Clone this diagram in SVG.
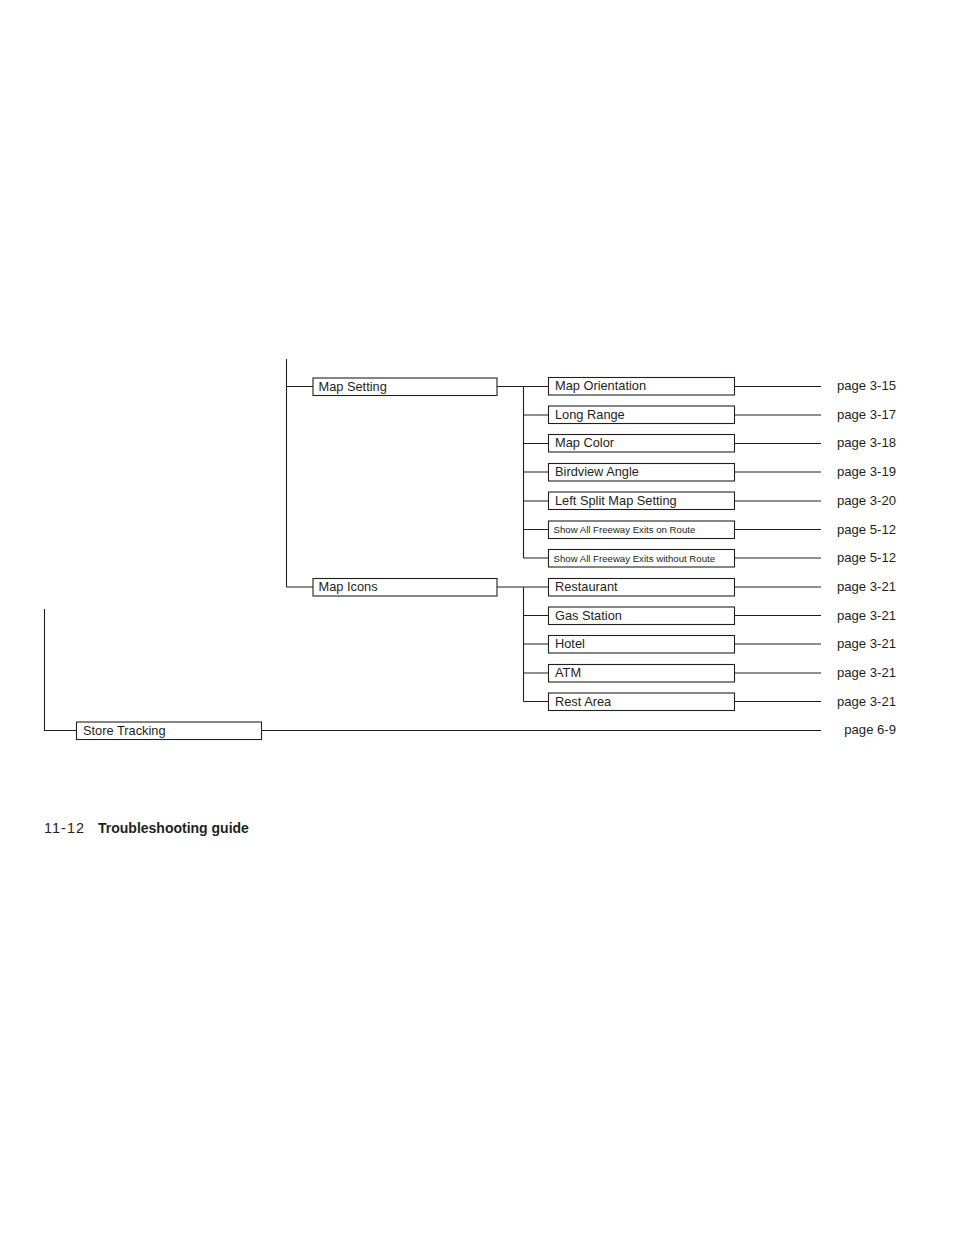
<svg xmlns="http://www.w3.org/2000/svg" width="954" height="1235" viewBox="0 0 954 1235">
<style>
.b{fill:#fff;stroke:#231f20;stroke-width:1.1}
.l{fill:none;stroke:#231f20;stroke-width:1.1}
.t{font-family:"Liberation Sans",Arial,sans-serif;font-size:12.8px;fill:#231f20}
.s{font-family:"Liberation Sans",Arial,sans-serif;font-size:9.65px;fill:#231f20}
.p{font-family:"Liberation Sans",Arial,sans-serif;font-size:13.1px;fill:#231f20;text-anchor:end}
</style>
<rect width="954" height="1235" fill="#fff"/>
<g id="connectors">
<path class="l" d="M286.5 359V587M286.5 386.5H313M286.5 587H313"/>
<path class="l" d="M497 386.5H548M523.5 386.5V558M523.5 415H548M523.5 443.5H548M523.5 472H548M523.5 501H548M523.5 529.5H548M523.5 558H548"/>
<path class="l" d="M497 587H548M523.5 587V701.5M523.5 615.5H548M523.5 644H548M523.5 673H548M523.5 701.5H548"/>
<path class="l" d="M734.5 386.5H821M734.5 415H821M734.5 443.5H821M734.5 472H821M734.5 501H821M734.5 529.5H821M734.5 558H821M734.5 587H821M734.5 615.5H821M734.5 644H821M734.5 673H821M734.5 701.5H821"/>
<path class="l" d="M44.5 609V730.5H76.5M261.5 730.5H821"/>
</g>
<g id="map-setting"><rect class="b" x="313" y="378" width="184" height="17.5"/><text class="t" x="318.5" y="390.5">Map Setting</text></g>
<g id="map-icons"><rect class="b" x="313" y="578.5" width="184" height="17.5"/><text class="t" x="318.5" y="591">Map Icons</text></g>
<g id="map-orientation"><rect class="b" x="548.5" y="377.5" width="186" height="17.5"/><text class="t" x="555" y="390">Map Orientation</text><text class="p" x="896" y="390">page 3-15</text></g>
<g id="long-range"><rect class="b" x="548.5" y="406" width="186" height="17.5"/><text class="t" x="555" y="418.5">Long Range</text><text class="p" x="896" y="418.5">page 3-17</text></g>
<g id="map-color"><rect class="b" x="548.5" y="434.5" width="186" height="17.5"/><text class="t" x="555" y="447">Map Color</text><text class="p" x="896" y="447">page 3-18</text></g>
<g id="birdview-angle"><rect class="b" x="548.5" y="463.5" width="186" height="17.5"/><text class="t" x="555" y="476">Birdview Angle</text><text class="p" x="896" y="476">page 3-19</text></g>
<g id="left-split"><rect class="b" x="548.5" y="492" width="186" height="17.5"/><text class="t" x="555" y="505">Left Split Map Setting</text><text class="p" x="896" y="505">page 3-20</text></g>
<g id="exits-on-route"><rect class="b" x="548.5" y="521" width="186" height="17.5"/><text class="s" x="553.5" y="533">Show All Freeway Exits on Route</text><text class="p" x="896" y="533.5">page 5-12</text></g>
<g id="exits-without-route"><rect class="b" x="548.5" y="549.5" width="186" height="17.5"/><text class="s" x="553.5" y="562">Show All Freeway Exits without Route</text><text class="p" x="896" y="562">page 5-12</text></g>
<g id="restaurant"><rect class="b" x="548.5" y="578.5" width="186" height="17.5"/><text class="t" x="555" y="590.5">Restaurant</text><text class="p" x="896" y="590.5">page 3-21</text></g>
<g id="gas-station"><rect class="b" x="548.5" y="607" width="186" height="17.5"/><text class="t" x="555" y="619.5">Gas Station</text><text class="p" x="896" y="619.5">page 3-21</text></g>
<g id="hotel"><rect class="b" x="548.5" y="635.5" width="186" height="17.5"/><text class="t" x="555" y="648">Hotel</text><text class="p" x="896" y="648">page 3-21</text></g>
<g id="atm"><rect class="b" x="548.5" y="664.5" width="186" height="17.5"/><text class="t" x="555" y="677">ATM</text><text class="p" x="896" y="677">page 3-21</text></g>
<g id="rest-area"><rect class="b" x="548.5" y="693" width="186" height="17.5"/><text class="t" x="555" y="705.5">Rest Area</text><text class="p" x="896" y="705.5">page 3-21</text></g>
<g id="store-tracking"><rect class="b" x="76.5" y="722" width="185" height="17.5"/><text class="t" x="83" y="734.5">Store Tracking</text><text class="p" x="896" y="734">page 6-9</text></g>
<g id="footer"><text x="44" y="833" font-family="'Liberation Sans',Arial,sans-serif" font-size="14.5" fill="#231f20" letter-spacing="1">11-12</text><text x="98" y="833" font-family="'Liberation Sans',Arial,sans-serif" font-size="14" font-weight="bold" fill="#231f20">Troubleshooting guide</text></g>
</svg>
